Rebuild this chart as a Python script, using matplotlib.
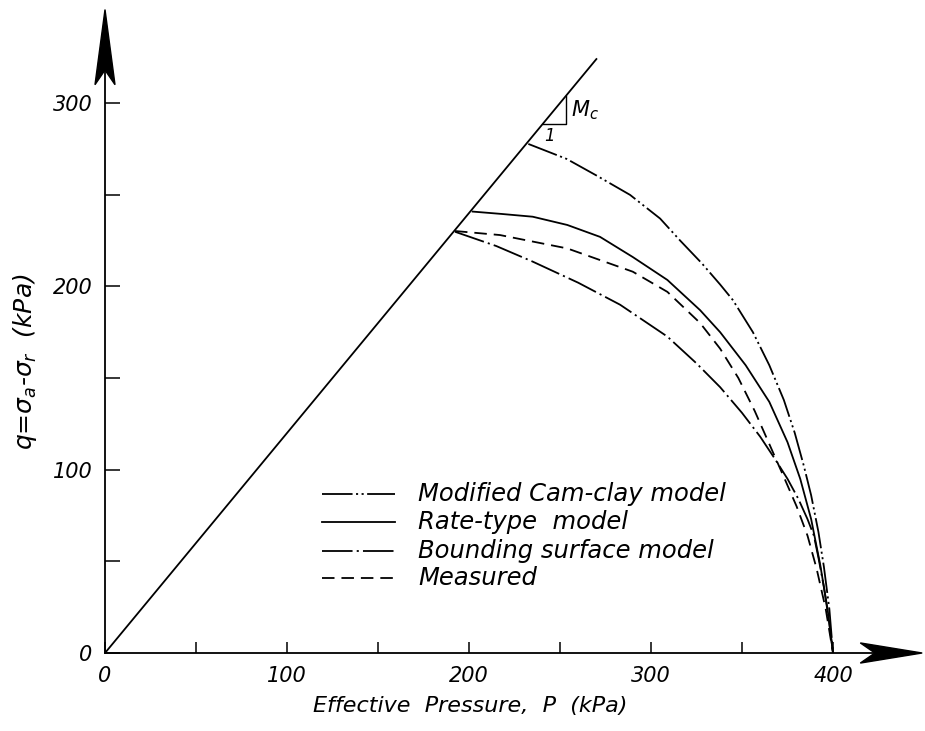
import matplotlib
matplotlib.use("Agg")
import matplotlib.pyplot as plt
from matplotlib.patches import Polygon

# ---------- DATA (p, q in kPa) ----------
M_C = 1.2
CSL_P_END = 270

CAM_P = [232.6, 253.7, 270.0, 288.5, 305.0, 316.0, 328.0, 338.0, 345.0, 356.0,
         365.0, 373.0, 379.0, 384.0, 388.0, 392.0, 395.0, 398.0, 400.0]
CAM_Q = [277.7, 269.5, 260.5, 249.9, 237.0, 225.0, 212.5, 201.0, 192.5, 175.0,
         157.0, 138.0, 120.0, 102.0, 86.0, 66.0, 47.0, 24.0, 0.0]

RATE_P = [202.0, 218.0, 235.0, 254.0, 272.0, 290.0, 309.0, 327.0, 338.0, 352.0,
          365.0, 375.0, 382.0, 388.0, 393.0, 397.0, 400.0]
RATE_Q = [240.8, 239.5, 238.0, 233.5, 227.0, 216.0, 203.5, 187.0, 175.0, 157.0,
          137.0, 115.0, 95.0, 73.0, 48.0, 24.0, 0.0]

BOUND_P = [192.3, 215.0, 235.0, 260.0, 283.0, 309.0, 325.0, 338.0, 350.0, 360.0,
           368.0, 375.0, 381.0, 386.0, 389.5, 392.0, 395.0, 398.0, 400.0]
BOUND_Q = [229.8, 222.0, 213.5, 202.0, 190.0, 172.6, 158.0, 145.0, 131.0, 118.0,
           106.0, 95.0, 84.0, 73.0, 64.0, 52.0, 36.0, 16.0, 0.0]

MEAS_P = [192.3, 217.0, 254.0, 290.0, 309.0, 327.0, 338.0, 348.0, 357.0, 365.0,
          373.0, 380.0, 386.0, 391.0, 396.0, 400.0]
MEAS_Q = [230.2, 228.0, 220.7, 208.0, 197.0, 180.0, 166.0, 150.0, 132.0, 114.0,
          96.0, 80.0, 64.0, 46.0, 24.0, 0.0]

LEGEND_LABELS = ["Modified Cam-clay model", "Rate-type  model",
                 "Bounding surface model", "Measured"]

X_TICKS = [50, 100, 150, 200, 250, 300, 350, 400]
Y_TICKS = [50, 100, 150, 200, 250, 300]

# ---------- STYLE ----------
plt.rcParams["font.family"] = ["DejaVu Sans"]
plt.rcParams["font.style"] = "italic"
plt.rcParams["mathtext.fontset"] = "dejavusans"
plt.rcParams["lines.scale_dashes"] = False

LW = 1.3
STYLES = {
    "cam": (0, (22, 2.5, 1.5, 2.5, 1.5, 2.5)),
    "rate": "-",
    "bound": (0, (22, 3, 1.5, 3)),
    "meas": (0, (9, 5)),
}

fig = plt.figure(figsize=(9.25, 7.31), dpi=100)
ax = fig.add_axes([105 / 925, 78 / 731, 819 / 925, 652.6 / 731])
ax.set_xlim(0, 450)
ax.set_ylim(0, 356)
for s in ax.spines.values():
    s.set_visible(False)

# axes drawn by hand, with dart arrowheads
ax.plot([0, 430], [0, 0], color="black", lw=LW, clip_on=False)
ax.plot([0, 0], [0, 330], color="black", lw=LW, clip_on=False)
ax.add_patch(Polygon([[0, 351], [5.5, 310], [0, 318], [-5.5, 310]],
                     closed=True, color="black", clip_on=False))
ax.add_patch(Polygon([[449, 0], [415, 5.5], [423, 0], [415, -5.5]],
                     closed=True, color="black", clip_on=False))

# ticks
ax.set_xticks([0] + X_TICKS)
ax.set_xticklabels(["0"] + [str(t) if t % 100 == 0 else "" for t in X_TICKS])
ax.set_yticks([0] + Y_TICKS)
ax.set_yticklabels(["0"] + [str(t) if t % 100 == 0 else "" for t in Y_TICKS])
ax.tick_params(axis="x", direction="in", length=8, width=1.1, pad=9,
               labelsize=15)
ax.tick_params(axis="y", direction="in", length=11, width=1.1, pad=9,
               labelsize=15)

# critical state line and slope triangle
ax.plot([0, CSL_P_END], [0, M_C * CSL_P_END], color="black", lw=LW)
ax.plot([240.7, 253.3, 253.3], [M_C * 240.7, M_C * 240.7, M_C * 253.3],
        color="black", lw=1.0)
ax.text(256, 296, "$M_c$", fontsize=15, ha="left", va="center")
ax.text(244.5, 282, "1", fontsize=12, ha="center", va="center")

# stress paths
ax.plot(CAM_P, CAM_Q, color="black", lw=LW, linestyle=STYLES["cam"])
ax.plot(RATE_P, RATE_Q, color="black", lw=LW, linestyle=STYLES["rate"])
ax.plot(BOUND_P, BOUND_Q, color="black", lw=LW, linestyle=STYLES["bound"])
ax.plot(MEAS_P, MEAS_Q, color="black", lw=LW, linestyle=STYLES["meas"])

# legend drawn in data space
legend_rows = [86.7, 71.5, 55.6, 40.9]
for key, label, yy in zip(["cam", "rate", "bound", "meas"], LEGEND_LABELS,
                          legend_rows):
    ax.plot([119.2, 159.3], [yy, yy], color="black", lw=LW,
            linestyle=STYLES[key])
    ax.text(172, yy, label, fontsize=17.5, ha="left", va="center")

ax.text(0.4457, -0.081, "Effective  Pressure,  P  (kPa)", transform=ax.transAxes,
        fontsize=16, ha="center", va="center")
ax.text(-0.0977, 0.446, r"q=$\sigma_a$-$\sigma_r$  (kPa)", transform=ax.transAxes,
        fontsize=18, ha="center", va="center", rotation=90)

fig.savefig("out.png", dpi=100)
